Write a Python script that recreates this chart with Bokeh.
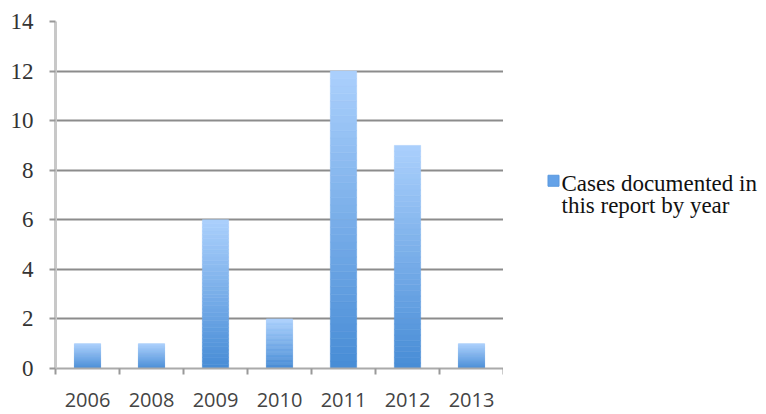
from bokeh.plotting import figure
from bokeh.models import FixedTicker, Range1d
from bokeh.layouts import row
from bokeh.core.properties import value
from bokeh.embed import file_html
from bokeh.resources import INLINE

years = ["2006", "2008", "2009", "2010", "2011", "2012", "2013"]
cases = [1, 1, 6, 2, 12, 9, 1]
y_ticks = [0, 2, 4, 6, 8, 10, 12, 14]
series_name = ["Cases documented in", "this report by year"]

TOP = (0xAB, 0xD0, 0xFC)
BOT = (0x47, 0x8C, 0xD6)
N = 40


def mix(t):
    c = [round(BOT[i] + (TOP[i] - BOT[i]) * t) for i in range(3)]
    return "#%02x%02x%02x" % tuple(c)


xs, bots, tops, cols = [], [], [], []
for i, v in enumerate(cases):
    for k in range(N):
        xs.append(i + 0.5)
        bots.append(v * k / N)
        tops.append(v * (k + 1) / N)
        cols.append(mix((k + 0.5) / N))

p = figure(width=503, height=414, output_backend="svg", toolbar_location=None,
           x_range=Range1d(0, len(years)), y_range=Range1d(0, 14),
           min_border_left=55, min_border_right=0, min_border_top=21,
           min_border_bottom=46, outline_line_color=None)

p.vbar(x=xs, bottom=bots, top=tops, width=0.41, fill_color=cols, line_color=cols, line_width=0.6)

# axes
p.xaxis.ticker = FixedTicker(ticks=[i + 0.5 for i in range(len(years))],
                             minor_ticks=list(range(len(years) + 1)))
p.xaxis.major_label_overrides = {i + 0.5: y for i, y in enumerate(years)}
p.xaxis.major_tick_line_color = None
p.xaxis.minor_tick_out = 6
p.xaxis.minor_tick_in = 0
p.xaxis.minor_tick_line_color = "#999999"
p.xaxis.minor_tick_line_width = 2
p.xaxis.axis_line_color = "#aaaaaa"
p.xaxis.axis_line_width = 2
p.xaxis.major_label_text_font = "Open Sans"
p.xaxis.major_label_text_font_size = "20px"
p.xaxis.major_label_text_color = "#444444"
p.xaxis.major_label_standoff = 18

p.yaxis.ticker = FixedTicker(ticks=y_ticks)
p.yaxis.major_tick_out = 6
p.yaxis.major_tick_in = 0
p.yaxis.major_tick_line_color = "#999999"
p.yaxis.major_tick_line_width = 2
p.yaxis.minor_tick_line_color = None
p.yaxis.axis_line_color = "#c8c8c8"
p.yaxis.axis_line_width = 3
p.yaxis.major_label_text_font = "Liberation Serif"
p.yaxis.major_label_text_font_size = "23px"
p.yaxis.major_label_text_color = "#333333"
p.yaxis.major_label_standoff = 16

p.xgrid.grid_line_color = None
p.ygrid.grid_line_color = "#8c8c8c"
p.ygrid.grid_line_width = 2

# legend panel (pixel-space figure)
lg = figure(width=263, height=414, output_backend="svg", toolbar_location=None,
            x_range=Range1d(0, 263), y_range=Range1d(414, 0),
            min_border=0, outline_line_color=None)
lg.axis.visible = False
lg.grid.visible = False
lg.rect(x=[50], y=[190], width=11, height=11, width_units="screen", height_units="screen",
        fill_color="#64a2e8", line_color="#5a98de")
lg.text(x=[58, 58], y=[193, 219], text=series_name,
        text_font=value("Liberation Serif"), text_font_size="23px",
        text_color="#111111", text_baseline="alphabetic", text_align="left")

open("out.html", "w").write(file_html(row(p, lg), INLINE))
